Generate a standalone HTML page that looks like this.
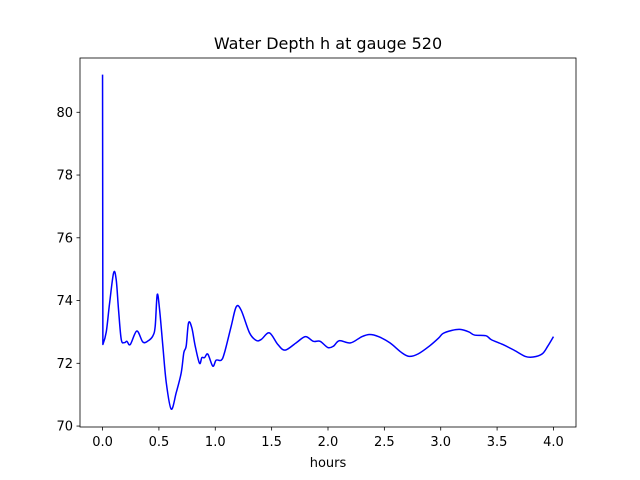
<!DOCTYPE html>
<html><head><meta charset="utf-8"><style>body{margin:0;background:#fff}svg{display:block;font-family:"DejaVu Sans","Liberation Sans",sans-serif}</style></head>
<body>
<svg id="c" width="640" height="480" viewBox="0 0 640 480"></svg>
<script>
const hours=[0,0.003,0.033,0.062,0.098,0.121,0.142,0.166,0.195,0.216,0.246,0.304,0.357,0.402,0.446,0.467,0.485,0.506,0.535,0.565,0.609,0.654,0.698,0.721,0.742,0.763,0.792,0.822,0.86,0.881,0.905,0.934,0.978,1.008,1.053,1.082,1.141,1.186,1.23,1.304,1.363,1.408,1.48,1.555,1.62,1.72,1.8,1.87,1.93,2.0,2.05,2.1,2.2,2.3,2.37,2.45,2.55,2.65,2.72,2.8,2.9,2.98,3.02,3.1,3.17,3.25,3.3,3.4,3.45,3.55,3.65,3.75,3.82,3.9,3.95,4.0];
const depth=[81.2,72.6,73.0,73.9,74.88,74.67,73.7,72.76,72.66,72.7,72.6,73.03,72.68,72.71,72.87,73.18,74.19,73.71,72.55,71.39,70.54,71.07,71.7,72.34,72.55,73.29,73.13,72.55,72.0,72.18,72.18,72.29,71.91,72.1,72.1,72.34,73.18,73.8,73.69,72.97,72.73,72.76,72.97,72.6,72.42,72.66,72.85,72.7,72.7,72.5,72.55,72.72,72.65,72.85,72.92,72.85,72.65,72.35,72.22,72.3,72.55,72.8,72.95,73.05,73.08,73.0,72.9,72.88,72.75,72.6,72.42,72.22,72.2,72.3,72.55,72.85];
const xTicks=[0,0.5,1,1.5,2,2.5,3,3.5,4];
const yTicks=[70,72,74,76,78,80];
const L=80,R=576,T=58,B=427,X0=-0.2,X1=4.2,Y0=69.97,Y1=81.73;
const sx=v=>L+(v-X0)/(X1-X0)*(R-L), sy=v=>B-(v-Y0)/(Y1-Y0)*(B-T);
const svg=document.getElementById('c');const NS='http://www.w3.org/2000/svg';
function mk(t,a,txt){const e=document.createElementNS(NS,t);for(const k in a)e.setAttribute(k,a[k]);if(txt!=null)e.textContent=txt;svg.appendChild(e);return e;}
const P=hours.map((h,i)=>[sx(h),sy(depth[i])]);
let d='M'+P[0][0].toFixed(2)+','+P[0][1].toFixed(2)+' L'+P[1][0].toFixed(2)+','+P[1][1].toFixed(2);
for(let i=1;i<P.length-1;i++){const p0=P[i-1],p1=P[i],p2=P[i+1],p3=P[Math.min(i+2,P.length-1)];
 const k=i===1?0:1/6;
 const c1=[p1[0]+(p2[0]-p0[0])*k,p1[1]+(p2[1]-p0[1])*k],c2=[p2[0]-(p3[0]-p1[0])/6,p2[1]-(p3[1]-p1[1])/6];
 d+=' C'+c1.map(v=>v.toFixed(2)).join(',')+' '+c2.map(v=>v.toFixed(2)).join(',')+' '+p2[0].toFixed(2)+','+p2[1].toFixed(2);}
let line=mk('path',{d:d,fill:'none',stroke:'#0000ff','stroke-width':1.5,'stroke-linejoin':'round'});


let fr=mk('rect',{x:L,y:T,width:R-L,height:B-T,fill:'none',stroke:'#000','stroke-width':0.8});


xTicks.forEach(v=>{const x=sx(v);
 const t=mk('line',{x1:x,x2:x,y1:B,y2:B+3.5,stroke:'#000','stroke-width':0.8});
 
 
 const l=mk('text',{x:x,y:B+19,'text-anchor':'middle','font-size':13},v.toFixed(1));
 
 });
yTicks.forEach(v=>{const y=sy(v);
 const t=mk('line',{x1:L-3.5,x2:L,y1:y,y2:y,stroke:'#000','stroke-width':0.8});
 
 
 const l=mk('text',{x:L-7,y:y+4.5,'text-anchor':'end','font-size':13},String(v));
 
 });
const xt=mk('text',{x:(L+R)/2,y:467,'text-anchor':'middle','font-size':13},'hours');


const tt=mk('text',{x:(L+R)/2,y:49,'text-anchor':'middle','font-size':16},'Water Depth h at gauge 520');


</script>
</body></html>
